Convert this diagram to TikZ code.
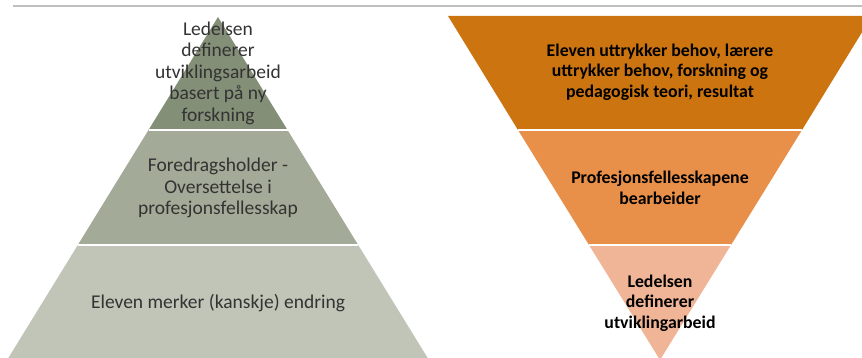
\documentclass[tikz,border=0pt]{standalone}
\usepackage{fontspec}
\setmainfont{Carlito}
\definecolor{grayA}{HTML}{848F78}
\definecolor{grayB}{HTML}{A3AA97}
\definecolor{grayC}{HTML}{C0C5B7}
\definecolor{orangeA}{HTML}{CC7410}
\definecolor{orangeB}{HTML}{E8904A}
\definecolor{orangeC}{HTML}{EFB596}
\begin{document}
\begin{tikzpicture}[x=1pt,y=-1pt,
    lefttext/.style={align=center, text=black!80, font=\fontsize{19.5}{21.5}\selectfont},
    righttext/.style={align=center, text=black, font=\bfseries\fontsize{17.8}{20.5}\selectfont},
    sep/.style={white, line width=1.5pt}]
    \useasboundingbox (0,0) rectangle (862,358);
    \clip (0,0) rectangle (862,358);
    % Rule at the top
    \draw[black!25, line width=1.5pt] (13,6) -- (862,6);

    % Pyramid: apex at (218,17)
    \fill[grayA] (218,17) -- (287.5,130) -- (148.5,130) -- cycle;
    \fill[grayB] (148.5,130) -- (287.5,130) -- (358.2,245) -- (77.8,245) -- cycle;
    \fill[grayC] (77.8,245) -- (358.2,245) -- (427.7,358) -- (8.3,358) -- cycle;
    \draw[sep] (148.5,130) -- (287.5,130);
    \draw[sep] (77.8,245) -- (358.2,245);
    \node[lefttext] (ltop) at (218,73) {Ledelsen\\definerer\\utviklingsarbeid\\basert på ny\\forskning};
    \node[lefttext] (lmid) at (218,188) {Foredragsholder -\\Oversettelse i\\profesjonsfellesskap};
    \node[lefttext] (lbot) at (218,303) {Eleven merker (kanskje) endring};

    % Inverted pyramid: apex at (660,360)
    \fill[orangeA] (448,16) -- (872,16) -- (802,130) -- (518,130) -- cycle;
    \fill[orangeB] (518,130) -- (802,130) -- (731,245) -- (589,245) -- cycle;
    \fill[orangeC] (589,245) -- (731,245) -- (660,360) -- cycle;
    \draw[sep] (518,130) -- (802,130);
    \draw[sep] (589,245) -- (731,245);
    \node[righttext] (rtop) at (660,72) {Eleven uttrykker behov, lærere\\uttrykker behov, forskning og\\pedagogisk teori, resultat};
    \node[righttext] (rmid) at (660,188) {Profesjonsfellesskapene\\bearbeider};
    \node[righttext] (rbot) at (660,303) {Ledelsen\\definerer\\utviklingarbeid};
\end{tikzpicture}
\end{document}
